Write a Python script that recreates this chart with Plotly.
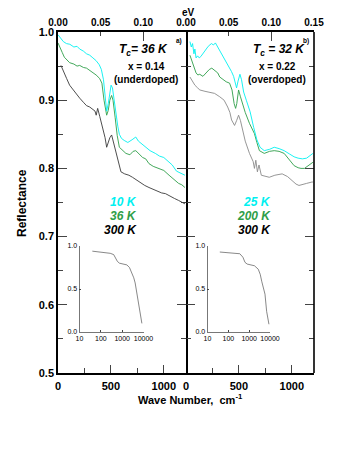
import plotly.graph_objects as go

# --- data ---
# left panel (x = 0.14, underdoped)
wn_a_10 = [0, 25, 50, 80, 112, 150, 180, 205, 240, 270, 300, 330, 360, 390, 410, 430, 445, 460, 475, 490, 502, 515, 530, 548,
           565, 580, 600, 626, 660, 700, 735, 760, 800, 829, 870, 920, 960, 1000, 1040, 1080, 1120, 1160, 1200]
r_a_10 = [0.996, 0.99, 0.986, 0.983, 0.982, 0.978, 0.979, 0.975, 0.972, 0.968, 0.966, 0.962, 0.958, 0.952, 0.945, 0.93, 0.905,
          0.884, 0.895, 0.915, 0.922, 0.918, 0.9, 0.885, 0.862, 0.85, 0.844, 0.841, 0.838, 0.842, 0.846, 0.84, 0.835, 0.831,
          0.826, 0.822, 0.818, 0.816, 0.81, 0.805, 0.796, 0.793, 0.79]
wn_a_36 = [0, 20, 40, 60, 81, 110, 150, 180, 205, 240, 270, 300, 330, 360, 393, 415, 435, 450, 460, 475, 490, 507, 520, 540,
           560, 580, 610, 642, 680, 710, 735, 770, 800, 829, 860, 900, 950, 1000, 1050, 1100, 1140, 1170, 1200]
r_a_36 = [0.984, 0.978, 0.97, 0.963, 0.959, 0.955, 0.953, 0.95, 0.951, 0.948, 0.947, 0.944, 0.94, 0.937, 0.932, 0.925, 0.9,
          0.882, 0.878, 0.885, 0.9, 0.907, 0.9, 0.875, 0.848, 0.831, 0.826, 0.822, 0.82, 0.825, 0.826, 0.82, 0.816, 0.814,
          0.807, 0.803, 0.8, 0.797, 0.79, 0.784, 0.778, 0.776, 0.772]
wn_a_300 = [28, 50, 81, 110, 143, 175, 205, 240, 270, 300, 330, 350, 361, 375, 395, 424, 445, 460, 475, 490, 507, 525, 545,
            563, 580, 595, 630, 670, 704, 740, 780, 820, 860, 900, 940, 980, 1016, 1060, 1100, 1140, 1170, 1200]
r_a_300 = [0.951, 0.944, 0.932, 0.922, 0.915, 0.908, 0.903, 0.897, 0.892, 0.89, 0.887, 0.884, 0.878, 0.888, 0.876, 0.86,
           0.845, 0.831, 0.838, 0.845, 0.849, 0.838, 0.825, 0.817, 0.805, 0.795, 0.792, 0.79, 0.787, 0.783, 0.779, 0.775,
           0.772, 0.769, 0.766, 0.764, 0.763, 0.759, 0.756, 0.753, 0.75, 0.748]

# right panel (x = 0.22, overdoped)
wn_b_25 = [37, 50, 62, 75, 84, 95, 110, 125, 140, 160, 185, 210, 240, 260, 278, 300, 330, 360, 384, 410, 430, 450, 465, 478,
           492, 510, 525, 545, 570, 606, 640, 670, 700, 740, 790, 834, 880, 928, 980, 1022, 1060, 1100, 1140, 1170, 1200]
r_b_25 = [0.986, 0.978, 0.983, 0.968, 0.975, 0.962, 0.965, 0.962, 0.964, 0.968, 0.974, 0.979, 0.983, 0.981, 0.984, 0.978,
          0.97, 0.962, 0.956, 0.948, 0.942, 0.935, 0.925, 0.918, 0.928, 0.938, 0.93, 0.912, 0.9, 0.883, 0.86, 0.842, 0.831,
          0.826, 0.828, 0.831, 0.829, 0.826, 0.821, 0.817, 0.815, 0.814, 0.815, 0.819, 0.822]
wn_b_200 = [37, 55, 66, 80, 95, 112, 130, 160, 180, 197, 220, 244, 272, 300, 319, 350, 380, 412, 435, 455, 469, 480, 497,
            515, 534, 560, 600, 647, 670, 694, 740, 790, 834, 880, 928, 980, 1022, 1060, 1087, 1120, 1160, 1200]
r_b_200 = [0.966, 0.958, 0.954, 0.946, 0.94, 0.937, 0.938, 0.935, 0.938, 0.942, 0.945, 0.947, 0.944, 0.94, 0.934, 0.93,
           0.927, 0.925, 0.915, 0.895, 0.888, 0.895, 0.915, 0.905, 0.895, 0.882, 0.866, 0.851, 0.838, 0.826, 0.822, 0.825,
           0.826, 0.825, 0.822, 0.812, 0.804, 0.801, 0.8, 0.8, 0.804, 0.809]
wn_b_300 = [37, 60, 84, 110, 131, 180, 225, 270, 319, 360, 394, 415, 431, 459, 478, 497, 515, 534, 560, 600, 620, 635, 647,
            660, 675, 690, 712, 750, 787, 840, 909, 960, 1000, 1040, 1068, 1100, 1140, 1190, 1200]
r_b_300 = [0.934, 0.928, 0.922, 0.918, 0.915, 0.913, 0.912, 0.91, 0.905, 0.9, 0.89, 0.882, 0.871, 0.863, 0.87, 0.878, 0.87,
           0.856, 0.84, 0.822, 0.815, 0.81, 0.8, 0.812, 0.795, 0.805, 0.79, 0.788, 0.787, 0.79, 0.792, 0.788, 0.782, 0.777,
           0.775, 0.776, 0.778, 0.78, 0.78]

# insets: 300 K reflectance over a wide range (log axis)
ins_a_wn = [40, 100, 275, 400, 470, 600, 750, 1000, 1660, 2200, 2870, 3500, 4070, 4900, 5800, 7000, 8400]
ins_a_r = [0.94, 0.93, 0.915, 0.9, 0.86, 0.82, 0.80, 0.79, 0.78, 0.75, 0.69, 0.63, 0.57, 0.45, 0.36, 0.26, 0.10]
ins_b_wn = [39, 100, 355, 500, 630, 800, 1100, 1800, 2730, 3400, 4000, 5750, 6900, 8900]
ins_b_r = [0.93, 0.925, 0.91, 0.87, 0.81, 0.79, 0.78, 0.77, 0.73, 0.67, 0.59, 0.44, 0.24, 0.09]

ev_ticks_left = [0.0, 0.05, 0.10]
ev_ticks_right = [0.0, 0.05, 0.10, 0.15]
inset_ticks = [10, 100, 1000, 10000]

CM_PER_EV = 8065.54
WN_MAX = 1210

CYAN = '#00F0F0'
GREEN = '#2E9E48'
DARK = '#3a3a3a'
GRAY = '#8A8A8A'
FONT = 'Liberation Sans'

W, H = 353, 456
OFF = 8  # page body margin shifts the figure


def px(x):
    return (x - OFF) / W


def py(y):
    return 1 - (y - OFF) / H


fig = go.Figure()

for xs, ys, col, ax in [
    (wn_a_300, r_a_300, DARK, 'x'), (wn_a_36, r_a_36, GREEN, 'x'), (wn_a_10, r_a_10, CYAN, 'x'),
    (wn_b_300, r_b_300, GRAY, 'x2'), (wn_b_200, r_b_200, GREEN, 'x2'), (wn_b_25, r_b_25, CYAN, 'x2'),
]:
    fig.add_trace(go.Scatter(x=xs, y=ys, mode='lines', line=dict(color=col, width=0.9),
                             xaxis=ax, yaxis='y' if ax == 'x' else 'y2', showlegend=False))

fig.add_trace(go.Scatter(x=ins_a_wn, y=ins_a_r, mode='lines', line=dict(color='#555', width=0.7),
                         xaxis='x5', yaxis='y5', showlegend=False))
fig.add_trace(go.Scatter(x=ins_b_wn, y=ins_b_r, mode='lines', line=dict(color='#555', width=0.7),
                         xaxis='x6', yaxis='y6', showlegend=False))
# empty traces so the top eV axes get drawn
for ax, ya in [('x3', 'y'), ('x4', 'y2'), ('x7', 'y'), ('x8', 'y2')]:
    fig.add_trace(go.Scatter(x=[], y=[], xaxis=ax, yaxis=ya, showlegend=False))

tickfont = dict(family=FONT, size=11, color='black', weight='bold')
main_x = dict(range=[0, WN_MAX], showline=True, linewidth=1.6, linecolor='black', mirror=True,
              ticks='inside', ticklen=8, tickwidth=1.4, tickvals=[0, 500, 1000], tickfont=tickfont,
              minor=dict(tickvals=[250, 750], ticks='inside', ticklen=5, tickwidth=1.4),
              showgrid=False, zeroline=False, automargin=False, ticklabelstandoff=2)
main_y = dict(range=[0.5, 1.0], showline=True, linewidth=1.6, linecolor='black', mirror='ticks',
              ticks='inside', ticklen=9, tickwidth=1.4, dtick=0.1, tickformat='.1f', tickfont=tickfont,
              minor=dict(dtick=0.05, ticks='inside', ticklen=5, tickwidth=1.4),
              showgrid=False, zeroline=False, domain=[py(373), py(32)], automargin=False)
top_x = dict(range=[0, WN_MAX / CM_PER_EV], side='top', ticks='inside', ticklen=4, tickwidth=1.4,
             tickformat='.2f', tickfont=dict(family=FONT, size=10, color='black', weight='bold'),
             showgrid=False, zeroline=False, showline=False, automargin=False, ticklabelstandoff=3)
top_major = dict(range=[0, WN_MAX / CM_PER_EV], side='top', ticks='inside', ticklen=9, tickwidth=1.4,
                 tickvals=[0.10], showticklabels=False, showgrid=False, zeroline=False, showline=False,
                 automargin=False)
inset_font = dict(family=FONT, size=7, color='black')
inset_x = dict(type='log', range=[1, 4], tickvals=inset_ticks, ticktext=[str(t) for t in inset_ticks],
               ticks='inside', ticklen=2, tickwidth=0.8, showline=True, linewidth=0.8, linecolor='#777',
               tickfont=inset_font, showgrid=False, zeroline=False, automargin=False)
inset_y = dict(range=[0, 1], tickvals=[0, 0.5, 1.0], tickformat='.1f', ticks='inside', ticklen=2, tickwidth=0.8,
               showline=True, linewidth=0.8, linecolor='#777', tickfont=inset_font, showgrid=False,
               zeroline=False, domain=[py(332), py(246)], automargin=False)

fig.update_layout(
    width=W, height=H, margin=dict(l=0, r=0, t=0, b=0, autoexpand=False),
    template='none', plot_bgcolor='white', paper_bgcolor='white',
    xaxis=dict(main_x, domain=[px(58), px(186)], anchor='y'),
    yaxis=dict(main_y, anchor='x'),
    xaxis2=dict(main_x, domain=[px(186), px(314)], anchor='y2'),
    yaxis2=dict(main_y, anchor='x2', matches='y', showticklabels=False, showline=False),
    xaxis3=dict(top_x, overlaying='x', anchor='y', tickvals=ev_ticks_left),
    xaxis4=dict(top_x, overlaying='x2', anchor='y2', tickvals=ev_ticks_right),
    xaxis7=dict(top_major, overlaying='x', anchor='y'),
    xaxis8=dict(top_major, overlaying='x2', anchor='y2'),
    xaxis5=dict(inset_x, domain=[px(79.5), px(143.5)], anchor='y5'),
    yaxis5=dict(inset_y, anchor='x5'),
    xaxis6=dict(inset_x, domain=[px(207.5), px(270)], anchor='y6'),
    yaxis6=dict(inset_y, anchor='x6'),
    showlegend=False,
)

# right border of the right panel (its y axis line is hidden so the middle divider is not doubled)
fig.add_shape(type='line', xref='x2 domain', yref='y2 domain', x0=1, x1=1, y0=0, y1=1,
              line=dict(color='black', width=1.6))
fig.add_shape(type='line', xref='x2 domain', yref='y2 domain', x0=0.004, x1=0.004, y0=0, y1=1,
              line=dict(color='black', width=0.6))

ann = []


def add_text(x, y, text, size=11, color='black', bold=True, xanchor='center', italic=False, angle=0):
    ann.append(dict(x=px(x), y=py(y), xref='paper', yref='paper', text=text, showarrow=False,
                    xanchor=xanchor, yanchor='middle', textangle=angle,
                    font=dict(family=FONT, size=size, color=color, weight='bold' if bold else 'normal',
                              style='italic' if italic else 'normal')))


add_text(143, 50, '<i>T</i><sub><i>c</i></sub><i>= 36 K</i>', size=12)
add_text(146, 66, 'x = 0.14', size=10)
add_text(146, 79, '(underdoped)', size=10)
add_text(179, 41, 'a)', size=6.5)
add_text(279, 50, '<i>T</i><sub><i>c</i></sub><i> = 32 K</i>', size=12)
add_text(277, 66, 'x = 0.22', size=10)
add_text(277, 79, '(overdoped)', size=10)
add_text(306, 41, 'b)', size=6.5)

for lbl, col, y in [('10 K', CYAN, 202), ('36 K', GREEN, 216), ('300 K', 'black', 230)]:
    add_text(139, y, lbl, size=12, color=col, italic=True, xanchor='right')
for lbl, col, y in [('25 K', CYAN, 202), ('200 K', GREEN, 216), ('300 K', 'black', 230)]:
    add_text(273, y, lbl, size=12, color=col, italic=True, xanchor='right')

add_text(188, 12, 'eV', size=10)
add_text(190, 399, 'Wave Number,  cm<sup>-1</sup>', size=11)
add_text(22, 203, 'Reflectance', size=12, angle=-90)

fig.update_layout(annotations=ann)

fig.write_html("out.html")
